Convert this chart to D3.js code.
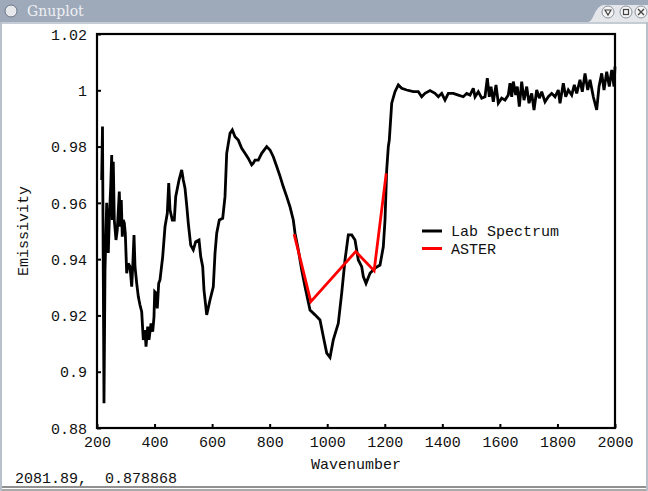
<!DOCTYPE html>
<html><head><meta charset="utf-8">
<script src="https://cdn.jsdelivr.net/npm/d3@7"></script>
<style>html,body{margin:0;padding:0;background:#fff;}svg{display:block;}</style>
</head><body>
<script>
// ---- data ----
const labWavenumber = [216.3,219.1,224.3,227.8,233.7,239.3,242.7,247.6,251.1,253.2,256.6,260.1,266.0,270.5,277.5,281.0,284.4,287.9,291.4,294.9,298.3,303.2,308.8,314.7,320.6,324.1,328.6,332.1,338.0,343.5,349.4,355.3,360.9,366.8,370.3,376.2,380.7,387.7,393.6,398.1,400.5,405.0,409.5,414.4,418.9,428.3,436.3,444.3,449.2,453.7,461.7,468.6,473.5,485.0,494.3,499.9,505.8,511.7,517.3,525.6,534.6,543.0,554.5,560.4,567.3,571.8,581.2,592.7,604.1,610.1,616.0,625.0,636.8,644.8,650.7,662.2,670.2,679.6,691.0,702.8,714.3,725.8,737.6,743.1,749.1,760.5,772.3,789.7,801.2,812.6,824.5,835.9,847.4,859.2,870.7,882.1,888.1,899.5,911.3,922.8,940.2,957.6,974.9,986.4,998.2,1009.7,1021.1,1038.5,1050.3,1061.8,1073.3,1085.1,1096.6,1108.0,1119.8,1125.4,1134.8,1148.7,1166.1,1183.4,1194.9,1200.8,1206.7,1212.3,1215.7,1224.1,1235.5,1247.0,1258.8,1276.2,1299.1,1316.5,1328.3,1339.8,1357.2,1374.6,1386.0,1397.8,1409.3,1420.8,1438.1,1455.5,1472.9,1484.7,1496.2,1507.6,1513.6,1525.0,1536.8,1548.3,1556.3,1563.2,1569.2,1577.1,1586.5,1594.5,1606.3,1617.8,1629.2,1635.1,1641.0,1646.6,1655.0,1660.5,1667.5,1675.8,1683.8,1693.2,1701.2,1710.6,1718.6,1727.9,1737.0,1745.3,1756.8,1768.3,1780.1,1791.6,1803.0,1808.9,1820.4,1828.7,1837.8,1849.6,1858.6,1866.9,1878.4,1886.4,1895.8,1905.2,1913.2,1924.6,1936.4,1944.4,1953.8,1961.8,1971.2,1980.2,1988.6,1996.6,2000.0];
const labEmissivity = [0.9681,0.9871,0.8888,0.9361,0.9600,0.9422,0.9539,0.9657,0.9770,0.9539,0.9746,0.9539,0.9468,0.9504,0.9640,0.9515,0.9610,0.9480,0.9539,0.9528,0.9493,0.9350,0.9385,0.9373,0.9302,0.9373,0.9486,0.9373,0.9314,0.9267,0.9237,0.9213,0.9113,0.9148,0.9089,0.9160,0.9113,0.9172,0.9142,0.9196,0.9284,0.9279,0.9225,0.9314,0.9326,0.9409,0.9515,0.9563,0.9670,0.9575,0.9539,0.9539,0.9622,0.9681,0.9717,0.9681,0.9652,0.9592,0.9527,0.9450,0.9433,0.9462,0.9468,0.9409,0.9373,0.9290,0.9202,0.9255,0.9302,0.9421,0.9492,0.9539,0.9545,0.9622,0.9776,0.9847,0.9859,0.9835,0.9823,0.9794,0.9776,0.9758,0.9735,0.9741,0.9752,0.9752,0.9776,0.9800,0.9788,0.9764,0.9729,0.9695,0.9657,0.9622,0.9586,0.9539,0.9492,0.9433,0.9361,0.9302,0.9219,0.9202,0.9184,0.9125,0.9066,0.9051,0.9113,0.9172,0.9279,0.9397,0.9486,0.9486,0.9468,0.9397,0.9373,0.9338,0.9314,0.9350,0.9368,0.9379,0.9444,0.9539,0.9717,0.9800,0.9823,0.9954,0.9995,1.0019,1.0007,1.0001,0.9995,0.9995,0.9977,0.9989,0.9999,0.9989,0.9977,0.9989,0.9965,0.9989,0.9989,0.9983,0.9977,0.9989,0.9983,1.0007,0.9977,0.9995,0.9972,0.9977,1.0043,0.9977,1.0013,0.9959,1.0019,0.9954,0.9972,0.9965,0.9983,1.0025,0.9977,1.0031,0.9983,1.0013,0.9942,1.0031,0.9965,1.0013,0.9954,0.9989,0.9930,1.0001,0.9972,0.9995,0.9959,0.9977,0.9989,0.9977,1.0001,0.9954,1.0025,0.9977,1.0001,0.9983,1.0019,0.9989,1.0037,0.9995,1.0060,1.0001,1.0037,0.9977,0.9930,1.0013,1.0060,1.0001,1.0066,1.0013,1.0072,1.0013,1.0084];
const asterWavenumber = [885, 943, 1099, 1163, 1205];
const asterEmissivity = [0.9489, 0.9249, 0.9427, 0.9359, 0.9705];
const xTicks = [200,400,600,800,1000,1200,1400,1600,1800,2000];
const yTicks = [0.88,0.9,0.92,0.94,0.96,0.98,1,1.02];
const seriesNames = ["Lab Spectrum","ASTER"];
const seriesColors = ["#000000","#ff0000"];
const statusText = "2081.89,  0.878868";

// ---- drawing ----
const W = 648, H = 491;
const mono = "'Liberation Mono','DejaVu Sans Mono',monospace";
const txt = "#111";
const svg = d3.select("body").append("svg").attr("width", W).attr("height", H);

// window frame
svg.append("rect").attr("x",0).attr("y",0).attr("width",W).attr("height",H).attr("fill","#ffffff");
svg.append("rect").attr("x",0).attr("y",0).attr("width",W).attr("height",22).attr("fill","#9ea9ba");
svg.append("path").attr("d","M588,22 C594,22 594,6 604,5 L648,5 L648,22 Z").attr("fill","#e4e6ea");
svg.append("rect").attr("x",0).attr("y",22).attr("width",W).attr("height",2).attr("fill","#c5ccd6");
svg.append("rect").attr("x",0).attr("y",22).attr("width",2).attr("height",H-22).attr("fill","#b8c0cc");
svg.append("rect").attr("x",W-2).attr("y",22).attr("width",2).attr("height",H-22).attr("fill","#b8c0cc");
// title icon + text
svg.append("circle").attr("cx",11).attr("cy",11).attr("r",6).attr("fill","#e6e8ec").attr("stroke","#6d7685");
svg.append("text").attr("x",27).attr("y",16).text("Gnuplot")
  .attr("font-family","'DejaVu Serif',serif").attr("font-size",14).attr("fill","#eef0f3");
// buttons
[612,630,645].forEach(cx=>{
  svg.append("circle").attr("cx",cx-4).attr("cy",12).attr("r",6).attr("fill","#f4f4f4").attr("stroke","#8a929e");
});
svg.append("path").attr("d","M605,10 L611,10 L608,15 Z").attr("fill","none").attr("stroke","#444").attr("stroke-width",1.2);
svg.append("rect").attr("x",623.5).attr("y",9.5).attr("width",5).attr("height",5).attr("fill","none").attr("stroke","#444").attr("stroke-width",1.2);
svg.append("path").attr("d","M638,9 L644,15 M644,9 L638,15").attr("stroke","#444").attr("stroke-width",1.4);

const x = d3.scaleLinear().domain([200,2000]).range([97,615]);
const y = d3.scaleLinear().domain([0.88,1.02]).range([428,34]);

const plot = svg.append("g");

// axes with inward ticks
const xAxis = d3.axisBottom(x).tickValues(xTicks).tickSize(-4).tickPadding(8).tickFormat(d3.format("d"));
const yAxis = d3.axisLeft(y).tickValues(yTicks).tickSize(-4).tickPadding(10).tickFormat(d=>String(+d.toFixed(2)));
const gx = plot.append("g").attr("transform","translate(0,428)").call(xAxis);
const gy = plot.append("g").attr("transform","translate(97,0)").call(yAxis);
[gx,gy].forEach(g=>{
  g.select(".domain").remove();
  g.selectAll(".tick line").attr("stroke","#000").attr("stroke-width",2);
  g.selectAll("text").attr("font-family",mono).attr("font-size",15).attr("fill",txt);
});
gx.selectAll("text").attr("dy",null).attr("y",19);
gy.selectAll("text").attr("x",-10).attr("dy","0.35em");

// frame
plot.append("rect").attr("x",97).attr("y",34).attr("width",518).attr("height",394)
  .attr("fill","none").attr("stroke","#000").attr("stroke-width",2.2);

// series
const labData = labWavenumber.map((w,i)=>[w,labEmissivity[i]]);
const asterData = asterWavenumber.map((w,i)=>[w,asterEmissivity[i]]);
const line = d3.line().x(d=>x(d[0])).y(d=>y(d[1]));
plot.append("path").datum(labData).attr("d",line).attr("fill","none")
  .attr("stroke",seriesColors[0]).attr("stroke-width",2.8).attr("stroke-linejoin","miter").attr("stroke-miterlimit",3);
plot.append("path").datum(asterData).attr("d",line).attr("fill","none")
  .attr("stroke",seriesColors[1]).attr("stroke-width",2.8);

// legend
seriesNames.forEach((name,i)=>{
  const ly = 231 + i*17.5;
  svg.append("line").attr("x1",422).attr("x2",442).attr("y1",ly).attr("y2",ly)
    .attr("stroke",seriesColors[i]).attr("stroke-width",3);
  svg.append("text").attr("x",451).attr("y",ly).attr("dy","0.35em").text(name)
    .attr("font-family",mono).attr("font-size",15).attr("fill",txt);
});

// axis titles
svg.append("text").attr("x",356).attr("y",469).attr("text-anchor","middle").text("Wavenumber")
  .attr("font-family",mono).attr("font-size",15).attr("fill",txt);
svg.append("text").attr("transform","translate(28,231) rotate(-90)").attr("text-anchor","middle").text("Emissivity")
  .attr("font-family",mono).attr("font-size",15).attr("fill",txt);

// status bar
svg.append("text").attr("x",15).attr("y",483).text(statusText).attr("xml:space","preserve")
  .style("white-space","pre").attr("font-family",mono).attr("font-size",15).attr("fill",txt);
svg.append("line").attr("x1",2).attr("x2",W-2).attr("y1",487).attr("y2",487).attr("stroke","#222").attr("stroke-width",1.2);
svg.append("line").attr("x1",2).attr("x2",W-2).attr("y1",490).attr("y2",490).attr("stroke","#555").attr("stroke-width",1.2);
</script>
</body></html>
